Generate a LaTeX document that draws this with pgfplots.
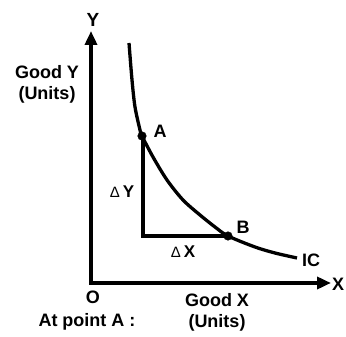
\documentclass[border=0pt]{standalone}
\usepackage{pgfplots}
\pgfplotsset{compat=1.18}
\usepackage{fontspec}
\setmainfont{Liberation Sans}
\usetikzlibrary{arrows.meta}
\begin{document}
\begin{tikzpicture}
\begin{axis}[
  scale only axis, width=346pt, height=337pt,
  xmin=0, xmax=346, ymin=0, ymax=337,
  hide axis, clip=false,
]
% axes (pixel coords, y = 337 - py)
\addplot[line width=3.8pt, -{Triangle[length=14pt,width=12pt]}] coordinates {(91,52) (91,306)};
\addplot[line width=3.8pt, -{Triangle[length=14pt,width=12pt]}] coordinates {(89.1,54) (331,54)};
% indifference curve
\addplot[line width=3.3pt, smooth] coordinates {
 (129,294) (132,257) (135,230) (140,207) (142,201) (153,180) (167,157) (183,137) (200,122) (215,110) (228,101) (255,90) (275,84) (297,79)};
% triangle
\addplot[line width=3.3pt] coordinates {(143,201) (143,101) (228,101)};
% points
\addplot[only marks, mark=*, mark size=4.3pt] coordinates {(142,201) (228,101)};
% labels
\node[font=\bfseries\fontsize{19}{21}\selectfont] at (axis cs:93,317) {Y};
\node[font=\bfseries\fontsize{18}{21}\selectfont, anchor=west, inner sep=0pt] at (axis cs:332,53) {X};
\node[font=\bfseries\fontsize{18}{21}\selectfont, align=center] at (axis cs:47,253) {Good Y\\(Units)};
\node[font=\bfseries\fontsize{18}{21}\selectfont] at (axis cs:160,206) {A};
\node[font=\bfseries\fontsize{18}{21}\selectfont] at (axis cs:243,110) {B};
\node[font=\bfseries\fontsize{18}{21}\selectfont] at (axis cs:311,77) {IC};
\node[font=\bfseries\fontsize{17}{20}\selectfont] at (axis cs:122,145) {{\mdseries\fontsize{15}{15}\selectfont Δ}\,Y};
\node[font=\bfseries\fontsize{17}{20}\selectfont] at (axis cs:183,85) {{\mdseries\fontsize{15}{15}\selectfont Δ}\,X};
\node[font=\bfseries\fontsize{18}{21}\selectfont] at (axis cs:93,40) {O};
\node[font=\bfseries\fontsize{18}{21}\selectfont, align=center] at (axis cs:217,25) {Good X\\(Units)};
\node[font=\bfseries\fontsize{18}{21}\selectfont] at (axis cs:87,15) {At point A :};
\end{axis}
\pgfresetboundingbox
\useasboundingbox (0,0) rectangle (346pt,337pt);
\end{tikzpicture}
\end{document}
